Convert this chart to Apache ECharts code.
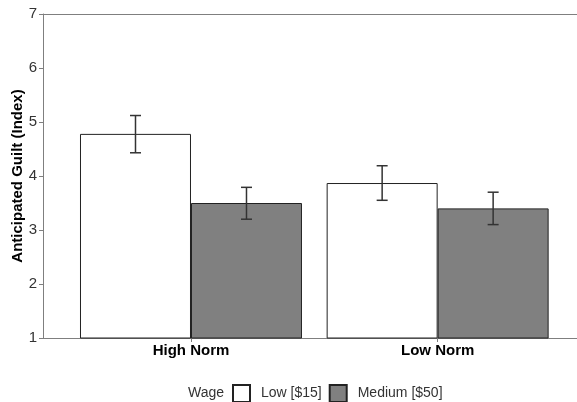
<!DOCTYPE html>
<html>
<head>
<meta charset="utf-8">
<script src="https://cdn.jsdelivr.net/npm/echarts@6/dist/echarts.min.js"></script>
<style>html,body{margin:0;padding:0;background:#fff;}#c{width:577px;height:402px;}</style>
</head>
<body>
<div id="c"></div>
<script>
var categories = ['High Norm', 'Low Norm'];
var seriesNames = ['Low [$15]', 'Medium [$50]'];
var lowWage = [4.78, 3.87];
var lowWageErr = [[4.43, 5.12], [3.55, 4.19]];
var medWage = [3.50, 3.40];
var medWageErr = [[3.20, 3.79], [3.10, 3.70]];
var yTicks = [1, 2, 3, 4, 5, 6, 7];

var BAR_FRAC = 0.45;
var FONT = 'Arial, "Liberation Sans", sans-serif';

function pos(i) { return i + 1; }

var lowData = lowWage.map(function (v, i) { return [pos(i), v]; });
var medData = medWage.map(function (v, i) { return [pos(i), v]; });
var errData = [];
lowWageErr.forEach(function (e, i) { errData.push([pos(i) - BAR_FRAC / 2, e[0], e[1]]); });
medWageErr.forEach(function (e, i) { errData.push([pos(i) + BAR_FRAC / 2, e[0], e[1]]); });

var chart = echarts.init(document.getElementById('c'), null, {renderer: 'canvas'});
chart.setOption({
  animation: false,
  backgroundColor: '#fff',
  textStyle: {fontFamily: FONT},
  grid: {left: 43, right: 0, top: 14, bottom: 64, containLabel: false, outerBoundsMode: 'none'},
  xAxis: [{
    type: 'value',
    min: 0.4,
    max: 2.565,
    position: 'bottom',
    splitLine: {show: false},
    axisLine: {show: true, lineStyle: {color: '#7f7f7f', width: 1}},
    axisTick: {show: true, customValues: [1, 2], length: 4, lineStyle: {color: '#7f7f7f'}},
    axisLabel: {
      customValues: [1, 2],
      formatter: function (v) { return categories[Math.round(v) - 1] || ''; },
      color: '#000', fontWeight: 'bold', fontSize: 15, fontFamily: FONT, margin: 5
    }
  }, {
    type: 'value',
    min: 0.4,
    max: 2.565,
    position: 'top',
    splitLine: {show: false},
    axisLine: {show: true, lineStyle: {color: '#7f7f7f', width: 1}},
    axisTick: {show: false},
    axisLabel: {show: false}
  }],
  yAxis: {
    type: 'value',
    min: 1,
    max: 7,
    interval: 1,
    name: 'Anticipated Guilt (Index)',
    nameLocation: 'middle',
    nameGap: 18,
    nameMoveOverlap: false,
    nameTextStyle: {color: '#000', fontWeight: 'bold', fontSize: 15, fontFamily: FONT},
    splitLine: {show: false},
    axisLine: {show: true, lineStyle: {color: '#7f7f7f', width: 1}},
    axisTick: {show: true, length: 4, lineStyle: {color: '#7f7f7f'}},
    axisLabel: {color: '#333', fontSize: 15, fontFamily: FONT, margin: 6}
  },
  legend: {
    left: 232,
    top: 384,
    padding: 0,
    itemWidth: 17,
    itemHeight: 17,
    itemGap: 7,
    icon: 'rect',
    data: seriesNames,
    textStyle: {color: '#333', fontSize: 14, fontFamily: FONT, padding: [0, 0, 0, 6]}
  },
  graphic: [{
    type: 'text',
    left: 188,
    top: 385,
    style: {text: 'Wage', fill: '#333', font: '14px ' + FONT, lineHeight: 16, verticalAlign: 'top'}
  }],
  series: [{
    name: seriesNames[0],
    type: 'bar',
    data: lowData,
    barWidth: (BAR_FRAC * 100) + '%',
    barGap: '0%',
    itemStyle: {color: '#ffffff', borderColor: '#222', borderWidth: 1}
  }, {
    name: seriesNames[1],
    type: 'bar',
    data: medData,
    barWidth: (BAR_FRAC * 100) + '%',
    barGap: '0%',
    itemStyle: {color: '#808080', borderColor: '#222', borderWidth: 1}
  }, {
    type: 'custom',
    data: errData,
    encode: {x: 0, y: [1, 2]},
    z: 5,
    silent: true,
    renderItem: function (params, api) {
      var x = api.value(0);
      var lo = api.coord([x, api.value(1)]);
      var hi = api.coord([x, api.value(2)]);
      var hw = 5.5;
      var st = {stroke: '#333', lineWidth: 1.5};
      return {
        type: 'group',
        children: [
          {type: 'line', shape: {x1: lo[0], y1: lo[1], x2: hi[0], y2: hi[1]}, style: st},
          {type: 'line', shape: {x1: lo[0] - hw, y1: lo[1], x2: lo[0] + hw, y2: lo[1]}, style: st},
          {type: 'line', shape: {x1: hi[0] - hw, y1: hi[1], x2: hi[0] + hw, y2: hi[1]}, style: st}
        ]
      };
    }
  }]
});
</script>
</body>
</html>
